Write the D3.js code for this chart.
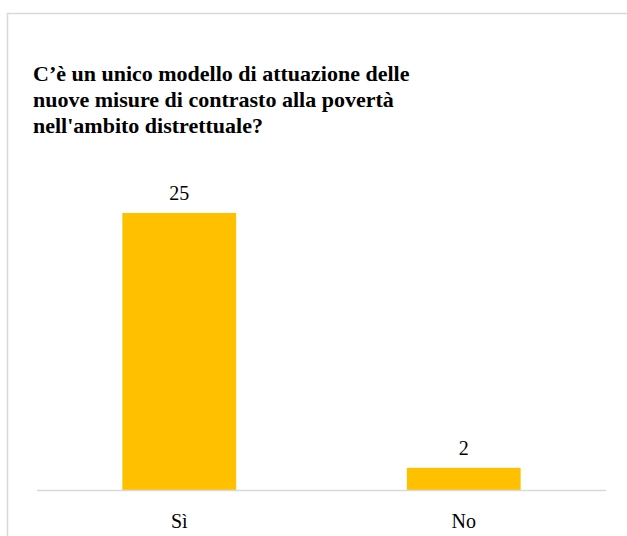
<!DOCTYPE html>
<html>
<head>
<meta charset="utf-8">
<script src="https://cdn.jsdelivr.net/npm/d3@7"></script>
<style>
  html, body { margin: 0; padding: 0; background: #ffffff; }
  #wrap { position: relative; width: 627px; height: 536px; overflow: hidden; }
  svg { display: block; position: absolute; left: 0; top: 0; }
  .lbl { position: absolute; font-family: "Liberation Serif"; color: #000; white-space: nowrap; line-height: 1; }
  .title { font-weight: bold; font-size: 22px; line-height: 26px; }
  .num, .cat { font-size: 20px; transform: translateX(-50%); }
</style>
</head>
<body>
<div id="wrap"><svg id="chart" width="627" height="536"></svg></div>
<script>
// Survey answers and their counts
const categories = ["Sì", "No"];
const counts = [25, 2];
const titleLines = [
  "C’è un unico modello di attuazione delle",
  "nuove misure di contrasto alla povertà",
  "nell'ambito distrettuale?"
];

const svg = d3.select("#chart");
const wrap = d3.select("#wrap");

// Outer chart frame (runs past the right and bottom edges)
svg.append("rect")
  .attr("x", 7.5).attr("y", 13.5)
  .attr("width", 640).attr("height", 540)
  .attr("fill", "none")
  .attr("stroke", "#d9d9d9")
  .attr("stroke-width", 1.5);

// Title block
wrap.append("div")
  .attr("class", "lbl title")
  .style("left", "33px")
  .style("top", "61px")
  .html(titleLines.map(t => t.replace(/&/g, "&amp;").replace(/</g, "&lt;")).join("<br>"));

// Scales
const plot = { left: 37, right: 606, top: 213, bottom: 490 };
const x = d3.scaleBand()
  .domain(categories)
  .range([plot.left, plot.right])
  .paddingInner(0.6)
  .paddingOuter(0.3);
const y = d3.scaleLinear()
  .domain([0, 25])
  .range([plot.bottom, plot.top]);

const data = categories.map((c, i) => ({ cat: c, value: counts[i] }));

// Bars
svg.append("g").selectAll("rect")
  .data(data)
  .join("rect")
  .attr("x", d => x(d.cat))
  .attr("y", d => y(d.value))
  .attr("width", x.bandwidth())
  .attr("height", d => y(0) - y(d.value))
  .attr("fill", "#ffc000");

// Category axis line
const xAxis = svg.append("g")
  .attr("transform", `translate(0,${plot.bottom})`)
  .call(d3.axisBottom(x).tickSize(0).tickFormat(() => ""));
xAxis.select(".domain")
  .attr("d", `M${plot.left},0.5H${plot.right}`)
  .attr("stroke", "#d9d9d9")
  .attr("stroke-width", 1.5);

// Value labels above the bars
wrap.selectAll("div.num")
  .data(data)
  .join("div")
  .attr("class", "lbl num")
  .style("left", d => (x(d.cat) + x.bandwidth() / 2) + "px")
  .style("top", d => (y(d.value) - 30) + "px")
  .text(d => d.value);

// Category labels under the axis
wrap.selectAll("div.cat")
  .data(data)
  .join("div")
  .attr("class", "lbl cat")
  .style("left", d => (x(d.cat) + x.bandwidth() / 2) + "px")
  .style("top", (plot.bottom + 21) + "px")
  .text(d => d.cat);
</script>
</body>
</html>
